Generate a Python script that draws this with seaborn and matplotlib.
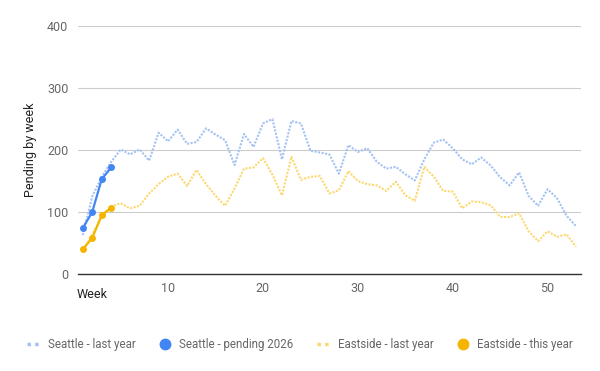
import pandas as pd
import matplotlib
matplotlib.use("Agg")
import matplotlib.pyplot as plt
from matplotlib.lines import Line2D
import seaborn as sns

# weekly pending counts
weeks = list(range(1, 54))
seattle_last = [63, 125, 157, 181, 201, 193, 201, 183, 228, 214,
                233, 210, 213, 235, 225, 216, 176, 226, 205, 243,
                250, 185, 247, 243, 199, 196, 193, 162, 208, 197,
                203, 181, 170, 173, 161, 151, 185, 212, 217, 203,
                185, 177, 188, 175, 156, 143, 164, 126, 110, 137,
                122, 94, 77]
eastside_last = [36, 64, 92, 109, 114, 106, 110, 130, 145, 157,
                 162, 142, 168, 145, 126, 110, 138, 170, 172, 187,
                 160, 127, 189, 152, 157, 158, 130, 135, 166, 150,
                 145, 143, 134, 149, 127, 118, 173, 157, 134, 133,
                 106, 117, 116, 111, 92, 92, 98, 69, 53, 69,
                 60, 64, 44]
weeks_now = [1, 2, 3, 4]
seattle_2026 = [74, 100, 153, 172]
eastside_now = [40, 58, 95, 107]

series_names = ["Seattle - last year", "Seattle - pending 2026",
                "Eastside - last year", "Eastside - this year"]
colors = ["#a4c2f4", "#4285f4", "#fcd86f", "#f4b400"]

sns.set_theme(style="white")
plt.rcParams["font.family"] = ["Roboto", "DejaVu Sans"]

last = pd.DataFrame({"week": weeks, series_names[0]: seattle_last,
                     series_names[2]: eastside_last})
now = pd.DataFrame({"week": weeks_now, series_names[1]: seattle_2026,
                    series_names[3]: eastside_now})

fig = plt.figure(figsize=(6, 3.71), dpi=100)
ax = fig.add_axes([0.13, 0.2615, 0.838, 0.668])

for name, col in [(series_names[0], colors[0]), (series_names[2], colors[2])]:
    sns.lineplot(data=last, x="week", y=name, ax=ax, color=col, lw=1.5,
                 dashes=False, zorder=2).lines[-1].set_dashes((1, 0.7))
for name, col in [(series_names[1], colors[1]), (series_names[3], colors[3])]:
    sns.lineplot(data=now, x="week", y=name, ax=ax, color=col, lw=1.6,
                 marker="o", markersize=5, markeredgewidth=0, zorder=3)

ax.set_xlim(0.5, 53.5)
ax.set_ylim(0, 400)
ax.set_yticks([0, 100, 200, 300, 400])
ax.set_xticks([10, 20, 30, 40, 50])
ax.grid(axis="y", color="#cccccc", lw=0.8)
ax.grid(axis="x", visible=False)
for s in ["top", "right", "left"]:
    ax.spines[s].set_visible(False)
ax.spines["bottom"].set_color("#333333")
ax.spines["bottom"].set_linewidth(1.0)
ax.spines["bottom"].set_zorder(4)
ax.tick_params(axis="both", length=0, labelsize=9, labelcolor="#666666")
ax.tick_params(axis="y", pad=7)
ax.tick_params(axis="x", pad=6)
ax.set_xlabel("")
ax.set_ylabel("Pending by week", fontsize=9, color="#222222", labelpad=7)
fig.text(0.127, 0.207, "Week", fontsize=9, color="#222222", ha="left", va="center")

handles = [
    Line2D([], [], color=colors[0], lw=2.5, dashes=(1, 1.2)),
    Line2D([], [], color=colors[1], lw=0, marker="o", markersize=7.5),
    Line2D([], [], color=colors[2], lw=2.5, dashes=(1, 1.2)),
    Line2D([], [], color=colors[3], lw=0, marker="o", markersize=7.5),
]
fig.legend(handles, series_names, loc="center", bbox_to_anchor=(0.5, 0.072),
           ncol=4, frameon=False, fontsize=8.3, labelcolor="#666666",
           handlelength=1.1, handletextpad=0.7, columnspacing=2.0)

fig.savefig("out.png", dpi=100)
